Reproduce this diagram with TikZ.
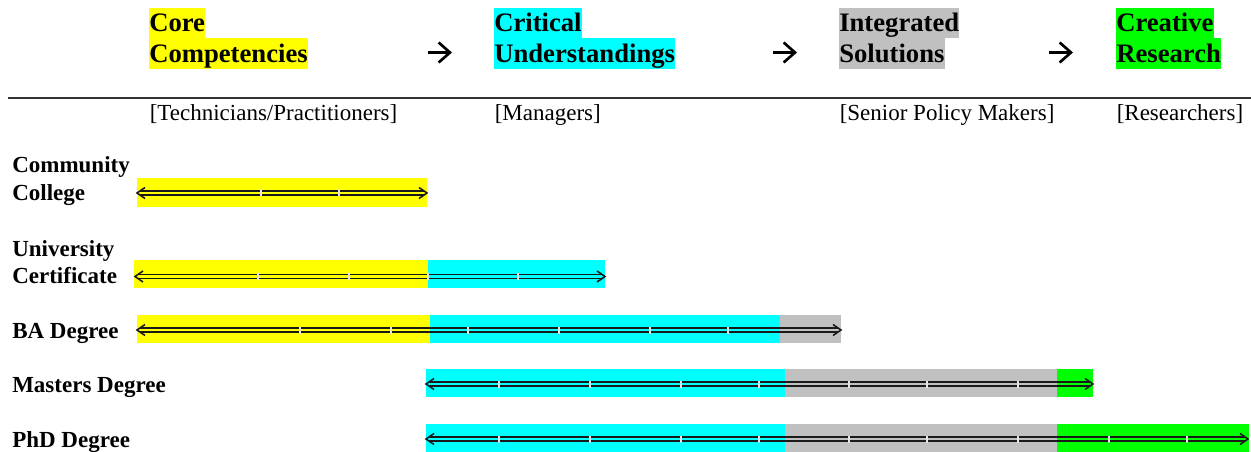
\documentclass[tikz,border=0pt]{standalone}
\usepackage{fontspec}
\setmainfont{Liberation Serif}
\usetikzlibrary{arrows.meta}
\definecolor{hlyellow}{HTML}{FFFF00}
\definecolor{hlcyan}{HTML}{00FFFF}
\definecolor{hlgray}{HTML}{C0C0C0}
\definecolor{hlgreen}{HTML}{00FF00}
\newcommand\railarrow[2]{%
  \draw[rail] ([shift={(3.2,-2.2)}]#1) -- ([shift={(-3.2,-2.2)}]#2);
  \draw[rail] ([shift={(3.2,2.2)}]#1) -- ([shift={(-3.2,2.2)}]#2);
  \draw[rail] ([shift={(8,-5.5)}]#1) -- (#1) -- ([shift={(8,5.5)}]#1);
  \draw[rail] ([shift={(-8,-5.5)}]#2) -- (#2) -- ([shift={(-8,5.5)}]#2);
}
\begin{document}
\begin{tikzpicture}[x=0.75pt,y=-0.75pt,
  hl/.style={anchor=base west, inner sep=0pt, text height=18pt, text depth=4.6pt,
    font=\fontsize{20}{24}\selectfont\bfseries},
  role/.style={anchor=base west, inner sep=0pt, font=\fontsize{17.25}{20}\selectfont},
  rowlab/.style={anchor=base west, inner sep=0pt, font=\fontsize{17.25}{20}\selectfont\bfseries},
  hdarrow/.style={line width=2pt, -{Straight Barb[length=8.5pt, width=15pt, line width=2pt]}},
  rail/.style={line width=1.15pt, draw=black!90, line cap=butt, line join=miter},
  gap/.style={fill=white!90!black}
]
\useasboundingbox (0,0) rectangle (1251,452);

% header
\node[hl, fill=hlyellow] (core1) at (149,32) {Core};
\node[hl, fill=hlyellow] (core2) at (149,62.5) {Competencies};
\node[hl, fill=hlcyan] (crit1) at (494,32) {Critical};
\node[hl, fill=hlcyan] (crit2) at (494,62.5) {Understandings};
\node[hl, fill=hlgray] (int1) at (839,32) {Integrated};
\node[hl, fill=hlgray] (int2) at (839,62.5) {Solutions};
\node[hl, fill=hlgreen] (cre1) at (1116,32) {Creative};
\node[hl, fill=hlgreen] (cre2) at (1116,62.5) {Research};

\coordinate (ar1a) at (428,52.5); \coordinate (ar1b) at (452,52.5);
\coordinate (ar2a) at (773,52.5); \coordinate (ar2b) at (797,52.5);
\coordinate (ar3a) at (1049,52.5); \coordinate (ar3b) at (1073,52.5);
\draw[hdarrow] (ar1a) -- (ar1b);
\draw[hdarrow] (ar2a) -- (ar2b);
\draw[hdarrow] (ar3a) -- (ar3b);

\coordinate (rulel) at (8,98); \coordinate (ruler) at (1251,98);
\draw[line width=1.1pt, draw=black!80] (rulel) -- (ruler);

\node[role] (r1) at (149.5,121) {[Technicians/Practitioners]};
\node[role] (r2) at (494.5,121) {[Managers]};
\node[role] (r3) at (839.5,121) {[Senior Policy Makers]};
\node[role] (r4) at (1116.5,121) {[Researchers]};

% row labels
\node[rowlab] (cc1) at (12,173) {Community};
\node[rowlab] (cc2) at (12,200) {College};
\node[rowlab] (uc1) at (12,256) {University};
\node[rowlab] (uc2) at (12,283) {Certificate};
\node[rowlab] (ba) at (12,338) {BA Degree};
\node[rowlab] (ma) at (12,392) {Masters Degree};
\node[rowlab] (phd) at (12,447) {PhD Degree};

% bars
\fill[hlyellow] (137,178) rectangle (427,207);

\fill[hlyellow] (134,260) rectangle (428,288);
\fill[hlcyan] (428,260) rectangle (605,288);

\fill[hlyellow] (137,315) rectangle (430,343);
\fill[hlcyan] (430,315) rectangle (780,343);
\fill[hlgray] (780,315) rectangle (841,343);

\fill[hlcyan] (426,369) rectangle (785,397);
\fill[hlgray] (785,369) rectangle (1057,397);
\fill[hlgreen] (1057,369) rectangle (1093,397);

\fill[hlcyan] (426,424) rectangle (785,452);
\fill[hlgray] (785,424) rectangle (1057,452);
\fill[hlgreen] (1057,424) rectangle (1249,452);

% arrows
\coordinate (ccs) at (137,193); \coordinate (cce) at (427,193);
\coordinate (ucs) at (135,276.5); \coordinate (uce) at (605,276.5);
\coordinate (bas) at (137,330); \coordinate (bae) at (841,330);
\coordinate (mas) at (426,384); \coordinate (mae) at (1093,384);
\coordinate (phs) at (426,439); \coordinate (phe) at (1248,439);

\railarrow{ccs}{cce}
\railarrow{ucs}{uce}
\railarrow{bas}{bae}
\railarrow{mas}{mae}
\railarrow{phs}{phe}

% small breaks between the line segments
\foreach \gx in {261,339} \fill[gap] (\gx-0.6,189.5) rectangle (\gx+0.6,196.5);
\foreach \gx in {258,349,428,518} \fill[gap] (\gx-0.6,273) rectangle (\gx+0.6,280);
\foreach \gx in {300,391,468,559,650,728} \fill[gap] (\gx-0.6,326.5) rectangle (\gx+0.6,333.5);
\foreach \gx in {499,590,681,759,849,927,1018} \fill[gap] (\gx-0.6,380.5) rectangle (\gx+0.6,387.5);
\foreach \gx in {499,590,681,759,849,927,1018,1109,1187} \fill[gap] (\gx-0.6,435.5) rectangle (\gx+0.6,442.5);
\end{tikzpicture}
\end{document}
